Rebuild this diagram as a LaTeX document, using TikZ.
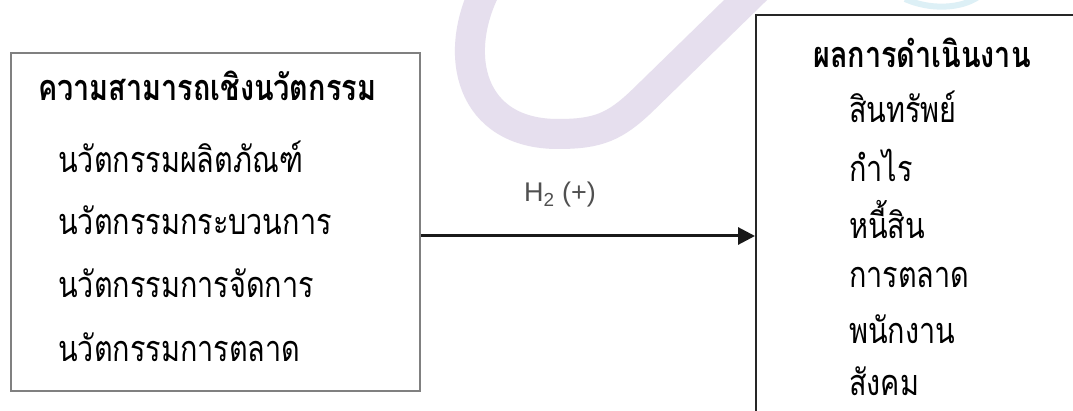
\documentclass[tikz,border=0pt]{standalone}
\usepackage{fontspec}
\usetikzlibrary{arrows.meta}
\newfontfamily\thaifont[Script=Thai, FakeStretch=0.8]{Loma}
\newfontfamily\labelfont{Liberation Sans}
\definecolor{wmlav}{HTML}{E6DFEE}
\definecolor{wmcyan}{HTML}{DDF0F6}
\definecolor{boxgray}{HTML}{808080}
\definecolor{labelgray}{HTML}{505050}
\tikzset{
  thaitext/.style={anchor=west, inner sep=0pt, font=\thaifont\fontsize{36}{40}\selectfont},
  thaihead/.style={thaitext, font=\thaifont\bfseries\fontsize{36}{40}\selectfont},
  leftbox/.style={draw=boxgray, line width=1.5pt, inner sep=0pt},
  rightbox/.style={draw=black!85, line width=2pt, inner sep=0pt},
  linkarrow/.style={line width=3pt, black!90, -{Triangle[length=17pt,width=17pt]}},
  watermark/.style={draw=wmlav, line width=30pt}
}
\begin{document}
\begin{tikzpicture}[x=1pt, y=-1pt]
\useasboundingbox (0,0) rectangle (1073,411);
\clip (0,0) rectangle (1073,411);
\fill[white] (0,0) rectangle (1073,411);

% background swoosh
\draw[watermark] (486,-12) .. controls (452,55) and (470,134) .. (558,134)
  .. controls (598,134) and (615,127) .. (643,100) -- (762,-16);
\draw[wmcyan, line width=6pt] (905,-1) .. controls (930,10) and (960,9) .. (978,-3);

% innovation capability box
\node[leftbox, minimum width=409pt, minimum height=338pt] (inno) at (215.5,222) {};
\node[thaihead] (t1) at (38,86) {ความสามารถเชิงนวัตกรรม};
\node[thaitext] (a1) at (58,157) {นวัตกรรมผลิตภัณฑ์};
\node[thaitext] (a2) at (58,220) {นวัตกรรมกระบวนการ};
\node[thaitext] (a3) at (58,283) {นวัตกรรมการจัดการ};
\node[thaitext] (a4) at (58,347) {นวัตกรรมการตลาด};

% performance box (runs past the page edges)
\node[rightbox, minimum width=360pt, minimum height=440pt] (perf) at (936,235) {};
\node[thaihead] (t2) at (813,53) {ผลการดำเนินงาน};
\node[thaitext] (b1) at (849,107) {สินทรัพย์};
\node[thaitext] (b2) at (849,165) {กำไร};
\node[thaitext] (b3) at (849,220) {หนี้สิน};
\node[thaitext] (b4) at (849,277) {การตลาด};
\node[thaitext] (b5) at (849,329) {พนักงาน};
\node[thaitext, anchor=base west, text depth=0pt] (b6) at (849,395) {สังคม};

% hypothesis link
\coordinate (ay) at (0,236);
\draw[linkarrow] (inno.east |- ay) -- (perf.west |- ay);
\node[font=\labelfont\fontsize{27}{30}\selectfont, text=labelgray, inner sep=0pt] (h2) at (560,195) {H\textsubscript{2} (+)};
\end{tikzpicture}
\end{document}
